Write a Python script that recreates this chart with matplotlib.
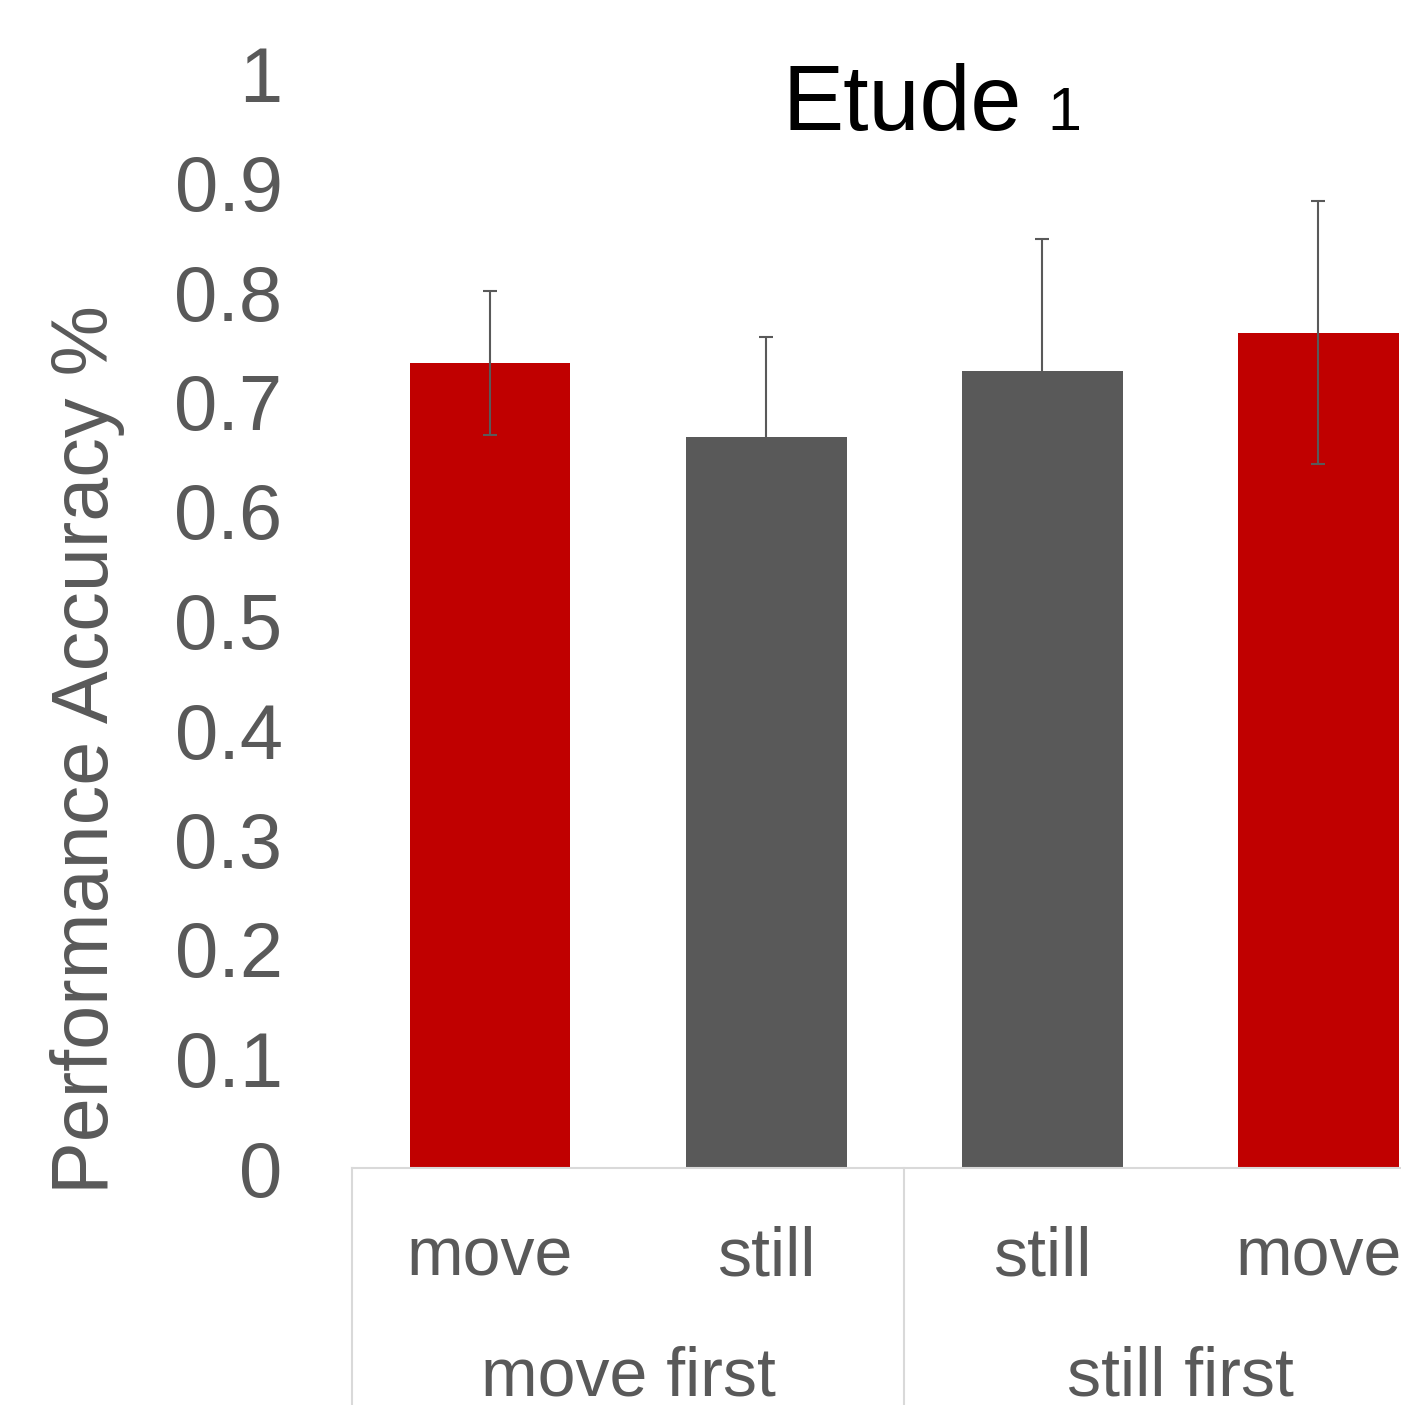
import matplotlib
matplotlib.use("Agg")
import matplotlib.pyplot as plt
import matplotlib.transforms as mtransforms
import numpy as np

plt.rcParams['font.family'] = ['Liberation Sans', 'DejaVu Sans']

conditions = ["move", "still", "still", "move"]
groups = ["move first", "still first"]
means = [0.735, 0.668, 0.728, 0.763]
errors = [0.066, 0.091, 0.120, 0.120]
bar_colors = ["#C00000", "#595959", "#595959", "#C00000"]
yticks = [0, 0.1, 0.2, 0.3, 0.4, 0.5, 0.6, 0.7, 0.8, 0.9, 1]
ytick_labels = ["0", "0.1", "0.2", "0.3", "0.4", "0.5", "0.6", "0.7", "0.8", "0.9", "1"]

W, H = 1401, 1405
fig = plt.figure(figsize=(W / 100, H / 100), dpi=100)
ax_left, ax_right, ax_bottom, ax_top = 352, 1401, 1168, 73
ax = fig.add_axes([ax_left / W, (H - ax_bottom) / H, (ax_right - ax_left) / W, (ax_bottom - ax_top) / H])

grey = "#595959"
x = np.arange(len(means)) + 0.5
ax.bar(x, means, width=0.583, color=bar_colors, zorder=2)
ax.errorbar(x, means, yerr=errors, fmt="none", ecolor=grey, elinewidth=1.5,
            capsize=4.7, capthick=1.5, zorder=3)

ax.set_xlim(0, 3.8)
ax.set_ylim(0, 1)
ax.set_yticks(yticks)
ax.set_yticklabels(ytick_labels)
ax.tick_params(axis="y", length=0, pad=50, labelsize=56, labelcolor=grey)
ax.set_xticks([])

for s in ["top", "right", "left"]:
    ax.spines[s].set_visible(False)
ax.spines["bottom"].set_color("#d9d9d9")
ax.spines["bottom"].set_linewidth(1.5)

trans = mtransforms.blended_transform_factory(ax.transData, ax.transAxes)
axh = ax_bottom - ax_top
label_y = -(1275 - ax_bottom) / axh
group_y = -(1395 - ax_bottom) / axh
line_bottom = -(H - ax_bottom) / axh

for xi, lab in zip(x, conditions):
    ax.text(xi, label_y, lab, transform=trans, ha="center", va="baseline",
            fontsize=49, color=grey, clip_on=False)

n_per_group = 2
for gi, g in enumerate(groups):
    gx = gi * n_per_group + n_per_group / 2
    ax.text(gx, group_y, g, transform=trans, ha="center", va="baseline",
            fontsize=49, color=grey, clip_on=False)

for bx in [0, 2, 4]:
    ax.plot([bx, bx], [0, line_bottom], transform=trans, color="#d9d9d9",
            lw=1.5, clip_on=False, zorder=1)

# y label
fig.text(108 / W, (H - 1194) / H, "Performance Accuracy %", rotation=90,
         rotation_mode="anchor", ha="left", va="baseline", fontsize=57, color=grey)

# title
fig.text(783 / W, (H - 130) / H, "Etude", ha="left", va="baseline", fontsize=66, color="black")
fig.text(1047 / W, (H - 130) / H, "1", ha="left", va="baseline", fontsize=44, color="black")

fig.savefig("out.png", dpi=100)
